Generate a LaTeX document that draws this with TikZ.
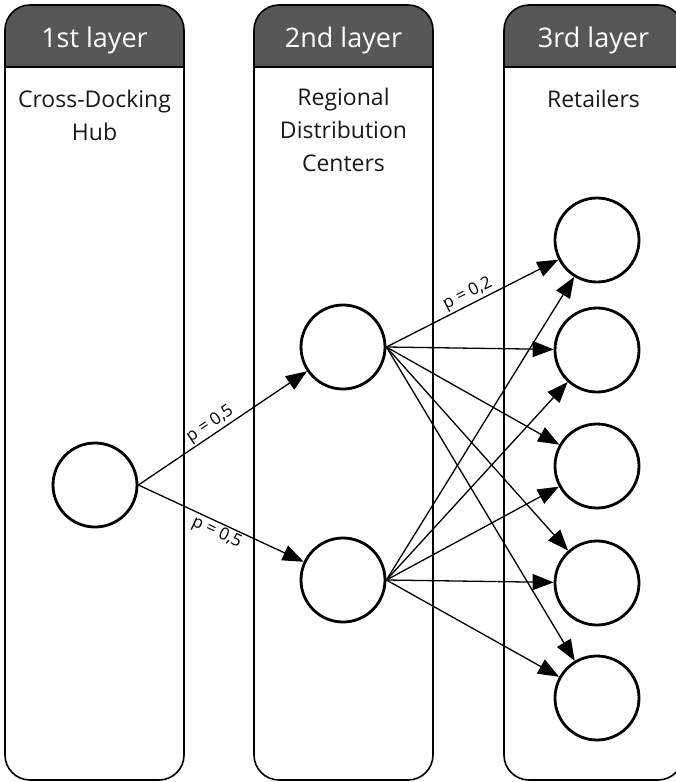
\documentclass[tikz,border=0pt]{standalone}
\usepackage{fontspec}
\setmainfont{Open Sans}
\usetikzlibrary{arrows.meta}
\definecolor{headgray}{HTML}{575757}
\tikzset{
  column/.style={draw=black, line width=1.6pt, rounded corners=25pt},
  header/.style={fill=headgray},
  headtext/.style={text=white, font=\fontsize{27}{30}\selectfont},
  coltext/.style={align=center, font=\fontsize{23}{33}\selectfont, text=black!90},
  place/.style={circle, draw=black, line width=2.8pt, minimum size=84pt, inner sep=0pt, fill=white},
  flow/.style={line width=1.3pt, -{Triangle[length=21pt, width=16pt]}},
  prob/.style={font=\fontsize{17}{19}\selectfont, sloped, inner sep=1.5pt}
}
\begin{document}
\begin{tikzpicture}[x=1pt, y=-1pt]
  \useasboundingbox (0,0) rectangle (676,782);
  \fill[white] (0,0) rectangle (676,782);

  % three layer columns with dark title bands
  \foreach \xa/\xb in {5/184, 254/433, 504/683} {
    \fill[header] (\xa,67) [rounded corners=25pt] -- (\xa,5) -- (\xb,5) [sharp corners] -- (\xb,67) -- cycle;
    \draw[column] (\xa,5) rectangle (\xb,780);
    \draw[line width=1.6pt] (\xa,67) -- (\xb,67);
  }

  % titles
  \node[headtext] (h1) at (94.5,40) {1st layer};
  \node[headtext] (h2) at (343.5,40) {2nd layer};
  \node[headtext] (h3) at (593.5,40) {3rd layer};
  \node[coltext, anchor=north] (t1) at (94.5,86) {Cross-Docking\\Hub};
  \node[coltext, anchor=north] (t2) at (343.5,84) {Regional\\Distribution\\Centers};
  \node[coltext, anchor=north] (t3) at (593.5,86) {Retailers};

  % facilities
  \node[place] (hub) at (95,485) {};
  \node[place] (d1) at (343,347) {};
  \node[place] (d2) at (343,580) {};
  \node[place] (r1) at (597,240) {};
  \node[place] (r2) at (597,350) {};
  \node[place] (r3) at (597,466) {};
  \node[place] (r4) at (597,583) {};
  \node[place] (r5) at (597,698) {};

  % hub to regional centres
  \draw[flow] (hub.east) -- node[prob, above, pos=0.46] (p1) {p = 0,5} (d1);
  \draw[flow] (hub.east) -- node[prob, below, pos=0.5] (p2) {p = 0,5} (d2);

  % regional centres to retailers
  \draw[flow] (d1.east) -- node[prob, above, pos=0.5] (p3) {p = 0,2} (r1);
  \foreach \r in {r2,r3,r4,r5} \draw[flow] (d1.east) -- (\r);
  \foreach \r in {r1,r2,r3,r4,r5} \draw[flow] (d2.east) -- (\r);
\end{tikzpicture}
\end{document}
